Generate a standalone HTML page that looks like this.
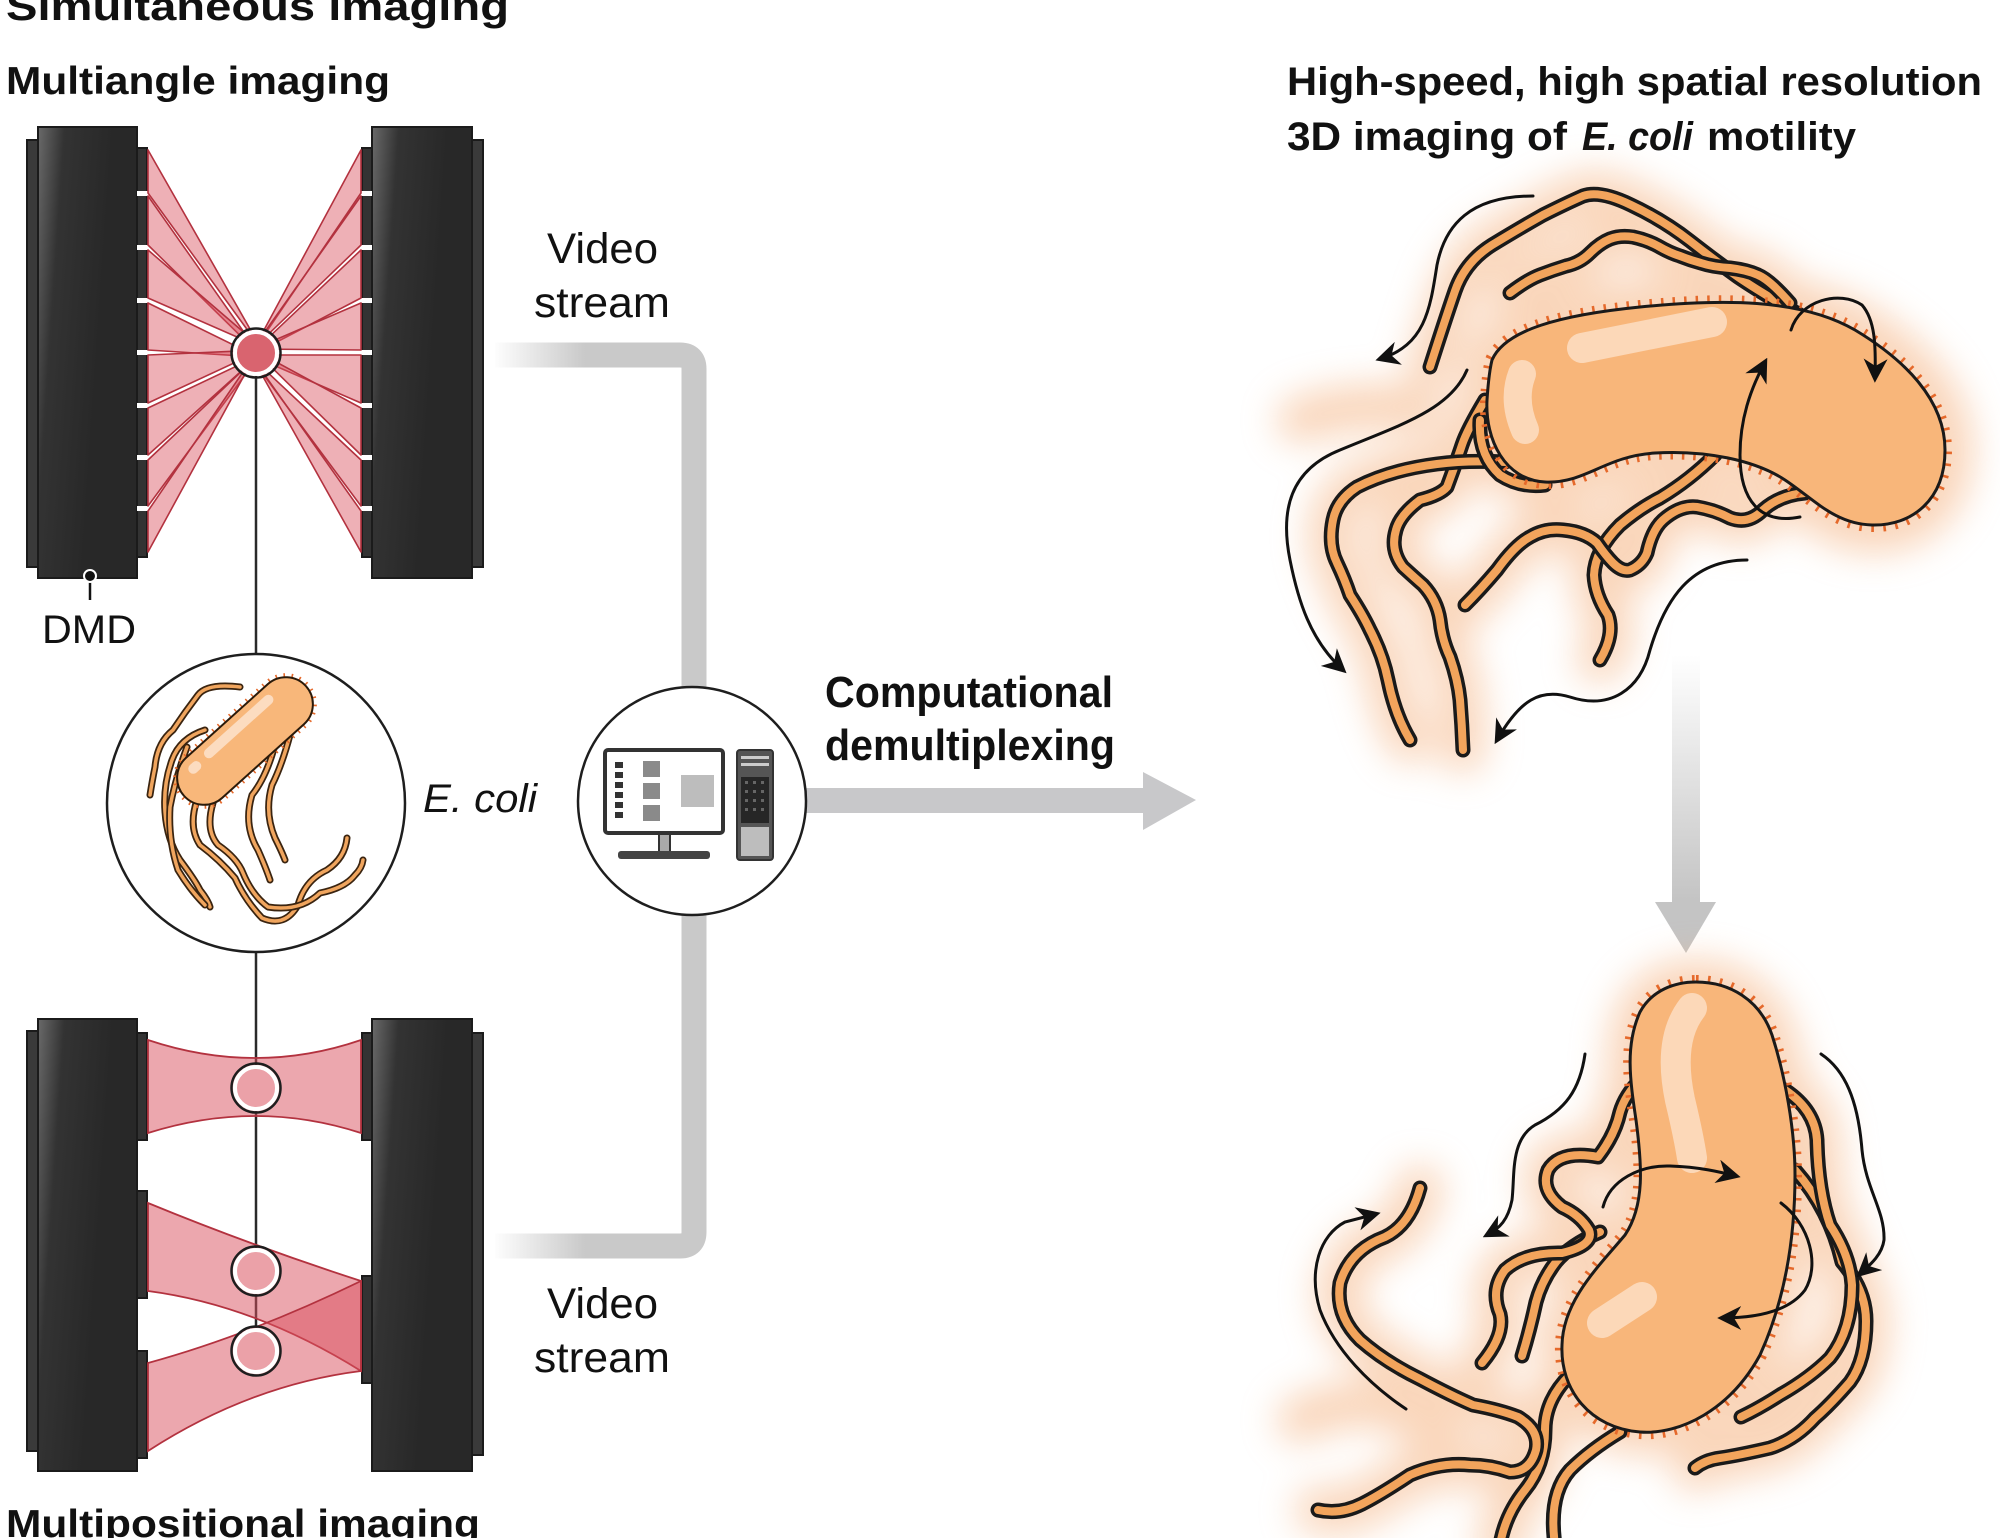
<!DOCTYPE html>
<html><head><meta charset="utf-8"><style>
html,body{margin:0;padding:0;background:#fff;}
svg{display:block;}
text{font-family:"Liberation Sans",Arial,sans-serif;fill:#111;}
</style></head><body>
<svg width="2000" height="1538" viewBox="0 0 2000 1538" xmlns="http://www.w3.org/2000/svg">
<defs>
 <linearGradient id="dmd" x1="0" y1="0" x2="0.7" y2="0.22">
  <stop offset="0" stop-color="#6a6a6a"/><stop offset="0.35" stop-color="#333333"/><stop offset="1" stop-color="#282828"/>
 </linearGradient>
 <linearGradient id="hfade" gradientUnits="userSpaceOnUse" x1="492" y1="0" x2="585" y2="0">
  <stop offset="0" stop-color="#ffffff"/><stop offset="1" stop-color="#c9c9c9"/>
 </linearGradient>
 <linearGradient id="vfade" gradientUnits="userSpaceOnUse" x1="0" y1="655" x2="0" y2="900">
  <stop offset="0" stop-color="#ffffff"/><stop offset="1" stop-color="#c4c4c4"/>
 </linearGradient>
 <filter id="blur" x="-30%" y="-30%" width="160%" height="160%"><feGaussianBlur stdDeviation="18"/></filter>
 <marker id="ah" viewBox="0 0 10 10" refX="8" refY="5" markerWidth="24" markerHeight="24" markerUnits="userSpaceOnUse" orient="auto"><path d="M0,0 L10,5 L0,10 L3,5 Z" fill="#111"/></marker>

 <path id="f1" fill="none" d="M1430,367 Q1445,320 1455,291 Q1465,262 1492,245 Q1520,228 1543,215 Q1567,203 1583,196 Q1600,190 1631,205 Q1663,220 1690,241 Q1717,262 1738,277 Q1760,292 1800,315"/>
 <path id="f2" fill="none" d="M1510,293 Q1527,280 1540,275 Q1553,270 1566,266 Q1580,263 1590,253 Q1600,243 1610,239 Q1620,235 1633,237 Q1647,240 1658,246 Q1670,253 1680,256 Q1690,260 1701,263 Q1713,267 1730,268 Q1747,270 1758,275 Q1770,280 1790,303"/>
 <path id="f3" fill="none" d="M1505,462 Q1467,460 1437,464 Q1390,470 1357,487 Q1337,500 1333,520 Q1328,545 1337,563 Q1345,580 1350,595 Q1363,615 1370,630 Q1383,655 1388,680 Q1395,715 1410,740"/>
 <path id="f4" fill="none" d="M1485,400 Q1467,430 1462,445 Q1457,460 1447,487 Q1440,495 1420,500 Q1400,515 1396,530 Q1390,550 1403,567 Q1415,578 1423,585 Q1437,600 1440,620 Q1442,640 1450,657 Q1458,680 1460,700 Q1462,725 1463,750"/>
 <path id="f5" fill="none" d="M1465,605 Q1480,590 1497,570 Q1515,545 1530,537 Q1545,528 1563,530 Q1585,532 1597,543 Q1606,556 1613,563 Q1622,572 1630,570 Q1642,565 1647,553 Q1652,530 1663,520 Q1680,505 1697,507 Q1715,510 1730,518 Q1748,525 1763,510 Q1780,495 1805,493"/>
 <path id="f6" fill="none" d="M1600,660 Q1615,635 1608,615 Q1595,595 1594,575 Q1595,550 1620,525 Q1640,508 1660,498 Q1690,480 1715,455"/>
 <path id="f7" fill="none" d="M1480,420 Q1478,455 1500,475 Q1520,488 1545,485"/>
 <path id="tbody" d="M1492,360 C1505,330 1560,315 1640,307 C1720,299 1800,298 1855,330 C1905,360 1945,400 1945,450 C1945,500 1912,526 1872,525 C1835,524 1815,500 1785,480 C1755,460 1705,450 1655,453 C1605,456 1585,484 1545,482 C1505,480 1485,440 1487,400 C1488,385 1489,372 1492,360 Z"/>

 <path id="b1" fill="none" d="M1420,1188 Q1410,1225 1385,1237 Q1350,1250 1340,1283 Q1335,1315 1360,1340 Q1385,1362 1420,1379 Q1450,1395 1473,1405 Q1500,1410 1518,1417 Q1540,1430 1536,1450 Q1530,1472 1510,1472 Q1490,1465 1470,1465 Q1440,1462 1410,1475 Q1380,1495 1362,1504 Q1340,1515 1318,1510"/>
 <path id="b2" fill="none" d="M1570,1375 Q1545,1400 1545,1430 Q1545,1465 1525,1490 Q1505,1515 1500,1545"/>
 <path id="b3" fill="none" d="M1620,1432 Q1590,1450 1570,1470 Q1548,1495 1555,1545"/>
 <path id="b4" fill="none" d="M1482,1363 Q1505,1335 1500,1314 Q1490,1290 1505,1270 Q1525,1252 1562,1253 Q1595,1245 1589,1230 Q1580,1215 1562,1207 Q1540,1190 1548,1170 Q1560,1150 1598,1157 Q1615,1135 1620,1112 Q1625,1095 1640,1080"/>
 <path id="b5" fill="none" d="M1522,1356 Q1530,1330 1536,1302 Q1542,1280 1556,1262 Q1570,1245 1600,1232"/>
 <path id="b6" fill="none" d="M1785,1090 Q1815,1110 1817,1140 Q1818,1190 1830,1225 Q1850,1255 1852,1285 Q1852,1330 1830,1358 Q1810,1378 1780,1395 Q1760,1408 1741,1417"/>
 <path id="b7" fill="none" d="M1795,1170 Q1830,1210 1842,1262 Q1866,1290 1866,1321 Q1866,1360 1850,1382 Q1830,1405 1815,1418 Q1795,1440 1770,1448 Q1740,1455 1720,1458 Q1705,1460 1695,1468"/>
 <path id="bbody" d="M1696,982 C1730,982 1760,1000 1772,1035 C1785,1075 1795,1130 1795,1175 C1795,1240 1785,1300 1760,1355 C1730,1410 1680,1435 1640,1432 C1590,1428 1560,1390 1562,1345 C1563,1300 1600,1265 1625,1235 C1645,1205 1642,1165 1636,1120 C1630,1080 1625,1045 1640,1012 C1652,990 1675,982 1696,982 Z"/>

 <path id="e1" fill="none" d="M240,687 Q207,683 198,695 Q185,712 173,730 Q157,743 155,767 Q152,782 150,795"/>
 <path id="e2" fill="none" d="M205,730 Q180,738 172,760 Q163,785 165,812 Q167,840 180,860 Q195,880 200,890 Q208,900 210,907"/>
 <path id="e3" fill="none" d="M197,800 Q188,827 200,845 Q220,860 235,878 Q245,900 262,918 Q285,928 298,905 Q305,880 327,870 Q345,858 347,838"/>
 <path id="e4" fill="none" d="M213,803 Q205,830 218,845 Q237,858 243,873 Q252,895 268,907 Q300,912 320,893 Q345,888 355,875 Q362,868 363,860"/>
 <path id="e5" fill="none" d="M277,737 Q268,775 252,795 Q243,825 258,850 Q266,868 270,880"/>
 <path id="e6" fill="none" d="M290,735 Q282,765 272,785 Q264,812 275,838 Q282,852 285,860"/>
 <path id="e7" fill="none" d="M187,747 Q175,780 170,807 Q168,840 178,870 Q190,890 205,905"/>
</defs>

<text x="6" y="20" font-size="40" font-weight="bold" textLength="503" lengthAdjust="spacingAndGlyphs">Simultaneous imaging</text>
<text x="6" y="94" font-size="39" font-weight="bold" textLength="384" lengthAdjust="spacingAndGlyphs">Multiangle imaging</text>
<text x="6" y="1537" font-size="39" font-weight="bold" textLength="474" lengthAdjust="spacingAndGlyphs">Multipositional imaging</text>
<text x="1287" y="95" font-size="40" font-weight="bold" textLength="695" lengthAdjust="spacingAndGlyphs">High-speed, high spatial resolution</text>
<text x="1287" y="150" font-size="40" font-weight="bold" textLength="280" lengthAdjust="spacingAndGlyphs">3D imaging of</text>
<text x="1582" y="150" font-size="40" font-weight="bold" font-style="italic" textLength="111" lengthAdjust="spacingAndGlyphs">E. coli</text>
<text x="1707" y="150" font-size="40" font-weight="bold" textLength="149" lengthAdjust="spacingAndGlyphs">motility</text>

<path d="M495,355 H680 Q694,355 694,369 V690" fill="none" stroke="url(#hfade)" stroke-width="25"/>
<path d="M495,1246 H680 Q694,1246 694,1232 V912" fill="none" stroke="url(#hfade)" stroke-width="25"/>
<rect x="806" y="788" width="340" height="25" fill="#c8c8ca"/>
<polygon points="1143,772 1196,800 1143,830" fill="#c8c8ca"/>
<rect x="1672" y="655" width="28" height="250" fill="url(#vfade)"/>
<polygon points="1655,902 1716,902 1686,953" fill="#c4c4c4"/>

<text x="547" y="263" font-size="43" textLength="111" lengthAdjust="spacingAndGlyphs">Video</text>
<text x="534" y="317" font-size="43" textLength="136" lengthAdjust="spacingAndGlyphs">stream</text>
<text x="547" y="1318" font-size="43" textLength="111" lengthAdjust="spacingAndGlyphs">Video</text>
<text x="534" y="1372" font-size="43" textLength="136" lengthAdjust="spacingAndGlyphs">stream</text>
<text x="825" y="707" font-size="44" font-weight="bold" textLength="288" lengthAdjust="spacingAndGlyphs">Computational</text>
<text x="825" y="760" font-size="44" font-weight="bold" textLength="290" lengthAdjust="spacingAndGlyphs">demultiplexing</text>

<line x1="256" y1="370" x2="256" y2="1330" stroke="#2a2a2a" stroke-width="2.5"/>

<g stroke="#1b1b1b" stroke-width="2">
 <rect x="27" y="140" width="12" height="427" fill="#3a3a3a"/>
 <rect x="471" y="140" width="12" height="427" fill="#3a3a3a"/>
 <rect x="38" y="127" width="99" height="451" fill="url(#dmd)"/>
 <rect x="372" y="127" width="100" height="451" fill="url(#dmd)"/>
 <rect x="137" y="148" width="10" height="409" fill="#333"/>
 <rect x="362" y="148" width="10" height="409" fill="#333"/>
</g>
<g fill="#fff">
 <rect x="137" y="191" width="12" height="5"/><rect x="137" y="245" width="12" height="5"/><rect x="137" y="298" width="12" height="5"/><rect x="137" y="350" width="12" height="5"/><rect x="137" y="403" width="12" height="5"/><rect x="137" y="455" width="12" height="5"/><rect x="137" y="506" width="12" height="5"/>
 <rect x="360" y="191" width="12" height="5"/><rect x="360" y="245" width="12" height="5"/><rect x="360" y="298" width="12" height="5"/><rect x="360" y="350" width="12" height="5"/><rect x="360" y="403" width="12" height="5"/><rect x="360" y="455" width="12" height="5"/><rect x="360" y="506" width="12" height="5"/>
</g>
<g fill="#d9505e" fill-opacity="0.45" stroke="#b3323f" stroke-width="1.6" stroke-linejoin="round">
 <polygon points="148,150 148,193 262,350"/>
 <polygon points="148,196 148,245 260,355"/>
 <polygon points="148,250 148,298 262,348"/>
 <polygon points="148,303 148,350 258,357"/>
 <polygon points="148,355 148,403 262,350"/>
 <polygon points="148,408 148,455 258,356"/>
 <polygon points="148,460 148,506 262,352"/>
 <polygon points="148,511 148,552 258,350"/>
 <polygon points="361,150 361,193 250,356"/>
 <polygon points="361,196 361,245 252,350"/>
 <polygon points="361,250 361,298 248,357"/>
 <polygon points="361,303 361,350 254,349"/>
 <polygon points="361,355 361,403 250,355"/>
 <polygon points="361,408 361,455 254,350"/>
 <polygon points="361,460 361,506 248,354"/>
 <polygon points="361,511 361,552 252,357"/>
</g>
<circle cx="256" cy="353" r="21" fill="#d9646f" stroke="#fff" stroke-width="4"/>
<circle cx="256" cy="353" r="24.5" fill="none" stroke="#1e1e1e" stroke-width="2.5"/>
<line x1="90" y1="576" x2="90" y2="600" stroke="#111" stroke-width="2.5"/>
<circle cx="90" cy="576" r="6" fill="#111" stroke="#fff" stroke-width="2"/>
<text x="42" y="643" font-size="40" textLength="94" lengthAdjust="spacingAndGlyphs">DMD</text>

<circle cx="256" cy="803" r="149" fill="#fff" stroke="#1e1e1e" stroke-width="2.5"/>
<g stroke-linecap="round" stroke-linejoin="round">
 <use href="#e1" stroke="#3a2410" stroke-width="7"/><use href="#e1" stroke="#f0a55e" stroke-width="3.5"/>
 <use href="#e2" stroke="#3a2410" stroke-width="7"/><use href="#e2" stroke="#f0a55e" stroke-width="3.5"/>
 <use href="#e7" stroke="#3a2410" stroke-width="7"/><use href="#e7" stroke="#f0a55e" stroke-width="3.5"/>
 <use href="#e3" stroke="#3a2410" stroke-width="7"/><use href="#e3" stroke="#f0a55e" stroke-width="3.5"/>
 <use href="#e4" stroke="#3a2410" stroke-width="7"/><use href="#e4" stroke="#f0a55e" stroke-width="3.5"/>
 <use href="#e5" stroke="#3a2410" stroke-width="7"/><use href="#e5" stroke="#f0a55e" stroke-width="3.5"/>
 <use href="#e6" stroke="#3a2410" stroke-width="7"/><use href="#e6" stroke="#f0a55e" stroke-width="3.5"/>
</g>
<g transform="translate(245,741) rotate(-42)">
 <rect x="-82" y="-27" width="164" height="54" rx="27" fill="none" stroke="#e5692b" stroke-width="8" stroke-dasharray="1.5 6"/>
 <rect x="-82" y="-27" width="164" height="54" rx="27" fill="#f8b77a" stroke="#2a1a0a" stroke-width="2"/>
 <rect x="-62" y="-19" width="14" height="10" rx="5" fill="#fcdcc0"/>
 <rect x="-40" y="-20" width="90" height="10" rx="5" fill="#fcdcc0"/>
</g>
<text x="423" y="812" font-size="40" font-style="italic" textLength="114" lengthAdjust="spacingAndGlyphs">E. coli</text>

<g stroke="#1b1b1b" stroke-width="2">
 <rect x="27" y="1031" width="12" height="420" fill="#3a3a3a"/>
 <rect x="471" y="1033" width="12" height="422" fill="#3a3a3a"/>
 <rect x="38" y="1019" width="99" height="452" fill="url(#dmd)"/>
 <rect x="372" y="1019" width="100" height="452" fill="url(#dmd)"/>
 <rect x="137" y="1033" width="10" height="107" fill="#333"/>
 <rect x="137" y="1191" width="10" height="107" fill="#333"/>
 <rect x="137" y="1351" width="10" height="107" fill="#333"/>
 <rect x="362" y="1033" width="10" height="107" fill="#333"/>
 <rect x="362" y="1276" width="10" height="107" fill="#333"/>
</g>
<g fill="#d9505e" fill-opacity="0.5" stroke="#b3323f" stroke-width="1.8">
 <path d="M148,1040 Q256,1076 361,1040 L361,1133 Q256,1099 148,1133 Z"/>
 <path d="M148,1203 Q250,1245 361,1281 L361,1371 Q255,1305 148,1291 Z"/>
 <path d="M148,1363 Q250,1335 361,1281 L361,1371 Q250,1385 148,1451 Z"/>
</g>
<g>
 <circle cx="256" cy="1088" r="21" fill="#eba1a8" stroke="#fff" stroke-width="4"/><circle cx="256" cy="1088" r="24.5" fill="none" stroke="#1e1e1e" stroke-width="2.5"/>
 <circle cx="256" cy="1271" r="21" fill="#eba1a8" stroke="#fff" stroke-width="4"/><circle cx="256" cy="1271" r="24.5" fill="none" stroke="#1e1e1e" stroke-width="2.5"/>
 <circle cx="256" cy="1351" r="21" fill="#eba1a8" stroke="#fff" stroke-width="4"/><circle cx="256" cy="1351" r="24.5" fill="none" stroke="#1e1e1e" stroke-width="2.5"/>
</g>

<circle cx="692" cy="801" r="114" fill="#fff" stroke="#1e1e1e" stroke-width="2.5"/>
<rect x="605" y="750" width="118" height="83" rx="3" fill="#fff" stroke="#333" stroke-width="4"/>
<g fill="#333">
 <rect x="615" y="762" width="8" height="6"/><rect x="615" y="772" width="8" height="6"/><rect x="615" y="782" width="8" height="6"/><rect x="615" y="792" width="8" height="6"/><rect x="615" y="802" width="8" height="6"/><rect x="615" y="812" width="8" height="6"/>
</g>
<g fill="#8a8a8a"><rect x="643" y="761" width="17" height="16"/><rect x="643" y="783" width="17" height="16"/><rect x="643" y="805" width="17" height="16"/></g>
<rect x="681" y="775" width="33" height="32" fill="#bdbdbd"/>
<rect x="659" y="834" width="11" height="18" fill="#aaa" stroke="#333" stroke-width="2"/>
<rect x="618" y="851" width="92" height="8" rx="3" fill="#444"/>
<rect x="737" y="750" width="36" height="110" rx="3" fill="#555" stroke="#333" stroke-width="2"/>
<rect x="741" y="756" width="28" height="3" fill="#ccc"/><rect x="741" y="763" width="28" height="3" fill="#ccc"/>
<rect x="741" y="777" width="28" height="46" fill="#262626"/>
<g fill="#666"><rect x="745" y="781" width="3" height="3"/><rect x="753" y="781" width="3" height="3"/><rect x="761" y="781" width="3" height="3"/><rect x="745" y="790" width="3" height="3"/><rect x="753" y="790" width="3" height="3"/><rect x="761" y="790" width="3" height="3"/><rect x="745" y="799" width="3" height="3"/><rect x="753" y="799" width="3" height="3"/><rect x="761" y="799" width="3" height="3"/><rect x="745" y="808" width="3" height="3"/><rect x="753" y="808" width="3" height="3"/><rect x="761" y="808" width="3" height="3"/></g>
<rect x="741" y="827" width="28" height="29" fill="#bdbdbd"/>

<g filter="url(#blur)" opacity="0.5" stroke="#f4ad78" stroke-width="46" stroke-linecap="round" fill="none">
 <use href="#f1"/><use href="#f2"/><use href="#f3"/><use href="#f4"/><use href="#f5"/><use href="#f6"/>
 <use href="#tbody" fill="#f4ad78" stroke-width="56"/>
 <path d="M1300,420 Q1360,400 1420,410"/>
</g>
<g stroke-linecap="round" stroke-linejoin="round">
 <use href="#f1" stroke="#1a1a1a" stroke-width="15"/><use href="#f1" stroke="#f2a45c" stroke-width="8"/>
 <use href="#f2" stroke="#1a1a1a" stroke-width="15"/><use href="#f2" stroke="#f2a45c" stroke-width="8"/>
 <use href="#f6" stroke="#1a1a1a" stroke-width="15"/><use href="#f6" stroke="#f2a45c" stroke-width="8"/>
 <use href="#f5" stroke="#1a1a1a" stroke-width="15"/><use href="#f5" stroke="#f2a45c" stroke-width="8"/>
 <use href="#f4" stroke="#1a1a1a" stroke-width="15"/><use href="#f4" stroke="#f2a45c" stroke-width="8"/>
 <use href="#f3" stroke="#1a1a1a" stroke-width="15"/><use href="#f3" stroke="#f2a45c" stroke-width="8"/>
 <use href="#f7" stroke="#1a1a1a" stroke-width="15"/><use href="#f7" stroke="#f2a45c" stroke-width="8"/>
</g>
<use href="#tbody" fill="none" stroke="#e5692b" stroke-width="14" stroke-dasharray="2.5 9"/>
<use href="#tbody" fill="#f8b67a" stroke="#1a1a1a" stroke-width="3"/>
<path d="M1582,348 L1712,322" stroke="#fcd8b8" stroke-width="30" stroke-linecap="round"/>
<path d="M1522,374 Q1512,400 1525,430" stroke="#fcd8b8" stroke-width="28" stroke-linecap="round" fill="none"/>
<g fill="none" stroke="#111" stroke-width="3" stroke-linecap="round">
 <path d="M1533,196 C1470,196 1445,225 1437,265 C1430,310 1425,345 1380,359" marker-end="url(#ah)"/>
 <path d="M1467,370 C1450,410 1400,425 1340,450 C1290,470 1280,510 1290,560 C1298,600 1310,640 1343,670" marker-end="url(#ah)"/>
 <path d="M1747,560 C1690,560 1665,600 1650,650 C1640,690 1610,710 1570,697 C1540,688 1520,700 1497,740" marker-end="url(#ah)"/>
 <path d="M1791,330 C1800,300 1840,290 1862,305 C1875,320 1876,345 1875,378" marker-end="url(#ah)"/>
 <path d="M1800,517 C1760,525 1740,500 1740,455 C1740,420 1750,390 1765,362" marker-end="url(#ah)"/>
</g>

<g filter="url(#blur)" opacity="0.5" stroke="#f4ad78" stroke-width="46" stroke-linecap="round" fill="none">
 <use href="#b1"/><use href="#b2"/><use href="#b4"/><use href="#b6"/><use href="#b7"/>
 <use href="#bbody" fill="#f4ad78" stroke-width="46"/>
 <path d="M1300,1420 Q1380,1380 1440,1440"/>
</g>
<g stroke-linecap="round" stroke-linejoin="round">
 <use href="#b2" stroke="#1a1a1a" stroke-width="15"/><use href="#b2" stroke="#f2a45c" stroke-width="8"/>
 <use href="#b3" stroke="#1a1a1a" stroke-width="15"/><use href="#b3" stroke="#f2a45c" stroke-width="8"/>
 <use href="#b1" stroke="#1a1a1a" stroke-width="15"/><use href="#b1" stroke="#f2a45c" stroke-width="8"/>
 <use href="#b5" stroke="#1a1a1a" stroke-width="15"/><use href="#b5" stroke="#f2a45c" stroke-width="8"/>
 <use href="#b4" stroke="#1a1a1a" stroke-width="15"/><use href="#b4" stroke="#f2a45c" stroke-width="8"/>
 <use href="#b7" stroke="#1a1a1a" stroke-width="15"/><use href="#b7" stroke="#f2a45c" stroke-width="8"/>
 <use href="#b6" stroke="#1a1a1a" stroke-width="15"/><use href="#b6" stroke="#f2a45c" stroke-width="8"/>
</g>
<use href="#bbody" fill="none" stroke="#e5692b" stroke-width="14" stroke-dasharray="2.5 9"/>
<use href="#bbody" fill="#f8b67a" stroke="#1a1a1a" stroke-width="3"/>
<path d="M1692,1008 C1675,1030 1672,1062 1680,1100 C1686,1125 1690,1145 1692,1158" stroke="#fcd8b8" stroke-width="30" stroke-linecap="round" fill="none"/>
<path d="M1602,1323 L1642,1297" stroke="#fcd8b8" stroke-width="30" stroke-linecap="round"/>
<g fill="none" stroke="#111" stroke-width="3" stroke-linecap="round">
 <path d="M1585,1054 C1580,1090 1565,1110 1535,1125 C1510,1140 1515,1175 1512,1200 C1508,1220 1500,1228 1487,1235" marker-end="url(#ah)"/>
 <path d="M1821,1054 C1845,1070 1858,1100 1862,1150 C1866,1190 1885,1210 1884,1240 C1882,1255 1870,1265 1860,1274" marker-end="url(#ah)"/>
 <path d="M1406,1409 C1370,1385 1335,1350 1320,1310 C1308,1270 1320,1235 1345,1222 L1376,1214" marker-end="url(#ah)"/>
 <path d="M1603,1207 C1610,1180 1640,1165 1670,1166 C1700,1167 1720,1172 1736,1176" marker-end="url(#ah)"/>
 <path d="M1781,1203 C1810,1225 1820,1265 1805,1290 C1790,1310 1760,1318 1722,1318" marker-end="url(#ah)"/>
</g>
</svg>
</body></html>
